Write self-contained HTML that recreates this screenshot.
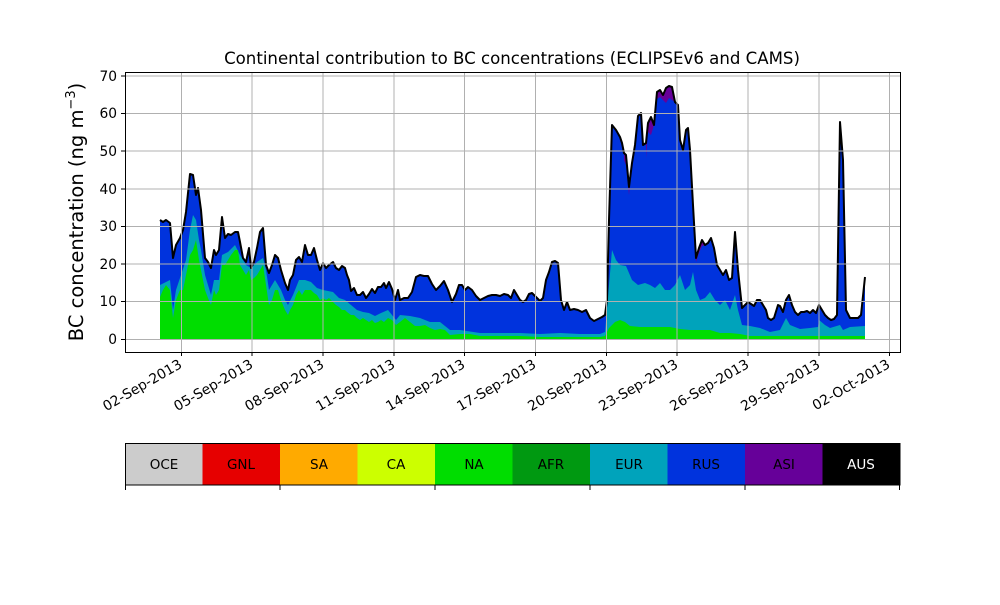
<!DOCTYPE html>
<html><head><meta charset="utf-8"><style>
body{margin:0;background:#fff}
svg text{font-family:"DejaVu Sans","Liberation Sans",sans-serif;fill:#000}
</style></head><body>
<svg width="1000" height="600" viewBox="0 0 1000 600" xmlns="http://www.w3.org/2000/svg">
<rect width="1000" height="600" fill="#fff"/>
<polygon fill="#0033dd" points="160,339 160,220 163,222 166,220 170,223 173,258 176,245 180,238 183,230 186,212 190,174 193,175 196,195 198,188 201,210 205,258 208,262 211,268 214,250 216,255 219,250 222,217 225,238 228,234 231,235 235,232 238,232 240,242 243,258 246,262 249,248 251,268 254,262 257,248 260,232 263,228 266,265 269,273 272,265 275,255 278,258 281,270 285,283 288,290 290,280 293,275 296,260 299,257 302,262 305,245 308,255 311,255 314,248 317,260 320,270 323,263 326,268 329,265 333,262 336,268 339,270 342,266 345,268 347,275 349,280 351,291 354,288 357,295 360,295 363,292 366,298 369,294 372,289 375,293 378,287 381,287 384,283 386,288 389,282 392,289 395,300 398,290 400,300 404,298 408,298 412,292 416,277 420,275 424,276 428,276 432,284 436,290 440,286 444,281 448,290 452,302 456,294 459,285 462,285 465,290 468,287 472,290 476,296 480,300 484,298 488,296 492,295 496,295 500,296 504,294 508,295 511,298 514,290 517,295 520,300 523,302 526,300 529,294 532,293 536,297 540,301 543,298 546,280 549,272 552,262 555,261 558,263 561,300 564,310 567,302 570,310 574,309 578,310 582,312 586,310 590,318 594,321 598,319 602,317 605,315 607,300 609,220 612,125 616,130 620,137 622,143 624,153 626,155 629,187 632,163 635,145 638,116 641,113 643,145 646,143 648,123 651,117 654,125 657,92 660,90 663,95 666,88 669,86 672,87 675,102 678,105 680,140 683,150 686,130 688,128 690,150 693,205 696,258 699,248 702,240 705,245 708,243 711,238 714,248 717,265 720,270 723,275 726,270 729,280 732,278 735,232 738,270 742,308 745,305 748,302 751,304 754,306 757,300 760,300 763,305 766,310 768,318 771,320 774,318 778,305 780,306 783,312 786,300 789,295 792,305 795,312 798,315 801,312 804,312 807,311 810,313 813,310 816,313 819,305 822,310 825,315 828,318 831,320 834,319 837,315 840,122 843,160 846,310 850,318 855,318 858,318 861,315 865,277 865,339"/>
<polygon fill="#660099" points="657,92 660,90 663,95 666,88 669,86 672,87 675,102 672,100 669,98 666,103 663,100 660,97 657,99"/>
<polygon fill="#660099" points="624,153 626,155 629,187 632,163 629,195 626,165 624,160"/>
<polygon fill="#660099" points="646,143 648,123 651,117 654,125 651,135 648,132 646,158"/>
<polygon fill="#660099" points="690,150 693,205 696,258 699,248 702,240 705,245 702,246 699,253 696,262 693,210"/>
<polygon fill="#00a3bb" points="160,339 160,285 170,280 173,310 176,290 180,278 186,260 190,230 193,215 196,220 199,240 201,250 205,275 208,285 211,295 214,280 219,280 222,255 228,252 235,245 240,255 243,260 246,265 251,268 257,262 263,258 266,270 269,290 275,280 281,290 285,300 288,305 293,295 299,280 305,280 311,282 317,288 323,290 333,292 339,298 345,300 351,305 357,310 363,312 369,313 375,316 381,313 388,310 392,315 396,320 400,315 410,316 420,318 430,322 440,322 450,330 460,330 480,333 500,333 520,333 540,334 560,333 580,334 600,334 605,332 609,285 612,250 616,260 620,265 626,266 632,280 638,285 645,283 650,285 655,288 660,283 665,290 670,290 675,285 680,275 685,290 690,285 693,272 696,290 700,300 705,298 710,292 715,300 720,305 725,300 730,310 735,295 738,310 742,325 750,326 760,328 770,332 780,330 786,318 790,325 800,329 810,328 818,327 819,320 825,325 830,328 840,325 843,330 850,327 865,326 865,339"/>
<polygon fill="#00dd00" points="160,339 160,297 163,290 166,285 170,290 173,318 176,300 180,290 183,290 186,275 190,255 193,250 196,240 199,260 201,270 205,290 208,298 211,305 214,290 216,295 219,290 222,265 225,265 228,260 231,255 235,250 238,250 240,265 243,270 246,275 249,270 251,280 254,278 257,275 260,270 263,265 266,285 269,305 272,300 275,290 278,290 281,300 285,310 288,315 290,310 293,305 296,295 299,290 302,295 305,290 308,290 311,290 314,293 317,295 320,300 323,298 326,300 329,298 333,302 336,305 339,307 342,310 345,310 347,312 351,315 354,315 357,318 360,320 363,318 366,320 369,322 372,320 375,323 378,322 381,320 384,322 388,318 392,320 396,325 400,322 405,318 410,322 415,326 420,326 425,325 430,328 435,330 440,329 445,330 450,335 460,334 470,334 480,336 490,336 500,336 520,336 540,337 560,337 580,337 600,337 605,336 609,328 615,322 620,320 625,322 630,326 640,327 650,327 660,327 670,327 680,329 690,330 700,330 710,330 720,333 730,333 740,334 750,336 760,336 790,336 865,336 865,339"/>
<polyline fill="none" stroke="#000" stroke-width="2" stroke-linejoin="round" points="160,220 163,222 166,220 170,223 173,258 176,245 180,238 183,230 186,212 190,174 193,175 196,195 198,188 201,210 205,258 208,262 211,268 214,250 216,255 219,250 222,217 225,238 228,234 231,235 235,232 238,232 240,242 243,258 246,262 249,248 251,268 254,262 257,248 260,232 263,228 266,265 269,273 272,265 275,255 278,258 281,270 285,283 288,290 290,280 293,275 296,260 299,257 302,262 305,245 308,255 311,255 314,248 317,260 320,270 323,263 326,268 329,265 333,262 336,268 339,270 342,266 345,268 347,275 349,280 351,291 354,288 357,295 360,295 363,292 366,298 369,294 372,289 375,293 378,287 381,287 384,283 386,288 389,282 392,289 395,300 398,290 400,300 404,298 408,298 412,292 416,277 420,275 424,276 428,276 432,284 436,290 440,286 444,281 448,290 452,302 456,294 459,285 462,285 465,290 468,287 472,290 476,296 480,300 484,298 488,296 492,295 496,295 500,296 504,294 508,295 511,298 514,290 517,295 520,300 523,302 526,300 529,294 532,293 536,297 540,301 543,298 546,280 549,272 552,262 555,261 558,263 561,300 564,310 567,302 570,310 574,309 578,310 582,312 586,310 590,318 594,321 598,319 602,317 605,315 607,300 609,220 612,125 616,130 620,137 622,143 624,153 626,155 629,187 632,163 635,145 638,116 641,113 643,145 646,143 648,123 651,117 654,125 657,92 660,90 663,95 666,88 669,86 672,87 675,102 678,105 680,140 683,150 686,130 688,128 690,150 693,205 696,258 699,248 702,240 705,245 708,243 711,238 714,248 717,265 720,270 723,275 726,270 729,280 732,278 735,232 738,270 742,308 745,305 748,302 751,304 754,306 757,300 760,300 763,305 766,310 768,318 771,320 774,318 778,305 780,306 783,312 786,300 789,295 792,305 795,312 798,315 801,312 804,312 807,311 810,313 813,310 816,313 819,305 822,310 825,315 828,318 831,320 834,319 837,315 840,122 843,160 846,310 850,318 855,318 858,318 861,315 865,277"/>
<g stroke="#b0b0b0" stroke-width="1">
<line x1="125" x2="900" y1="339.5" y2="339.5"/><line x1="125" x2="900" y1="301.5" y2="301.5"/><line x1="125" x2="900" y1="264" y2="264"/><line x1="125" x2="900" y1="226.5" y2="226.5"/><line x1="125" x2="900" y1="189" y2="189"/><line x1="125" x2="900" y1="151" y2="151"/><line x1="125" x2="900" y1="113.5" y2="113.5"/><line x1="125" x2="900" y1="76" y2="76"/>
<line x1="181.5" x2="181.5" y1="72" y2="352"/><line x1="252" x2="252" y1="72" y2="352"/><line x1="323" x2="323" y1="72" y2="352"/><line x1="394" x2="394" y1="72" y2="352"/><line x1="464.5" x2="464.5" y1="72" y2="352"/><line x1="535.5" x2="535.5" y1="72" y2="352"/><line x1="606.5" x2="606.5" y1="72" y2="352"/><line x1="677" x2="677" y1="72" y2="352"/><line x1="748" x2="748" y1="72" y2="352"/><line x1="819" x2="819" y1="72" y2="352"/><line x1="889.5" x2="889.5" y1="72" y2="352"/>
</g>
<rect x="125.5" y="72.5" width="775" height="280" fill="none" stroke="#000" stroke-width="1"/>
<g stroke="#000"><line x1="121" x2="125" y1="339.5" y2="339.5"/><line x1="121" x2="125" y1="301.5" y2="301.5"/><line x1="121" x2="125" y1="264" y2="264"/><line x1="121" x2="125" y1="226.5" y2="226.5"/><line x1="121" x2="125" y1="189" y2="189"/><line x1="121" x2="125" y1="151" y2="151"/><line x1="121" x2="125" y1="113.5" y2="113.5"/><line x1="121" x2="125" y1="76" y2="76"/>
<line x1="181.5" x2="181.5" y1="352" y2="356"/><line x1="252" x2="252" y1="352" y2="356"/><line x1="323" x2="323" y1="352" y2="356"/><line x1="394" x2="394" y1="352" y2="356"/><line x1="464.5" x2="464.5" y1="352" y2="356"/><line x1="535.5" x2="535.5" y1="352" y2="356"/><line x1="606.5" x2="606.5" y1="352" y2="356"/><line x1="677" x2="677" y1="352" y2="356"/><line x1="748" x2="748" y1="352" y2="356"/><line x1="819" x2="819" y1="352" y2="356"/><line x1="889.5" x2="889.5" y1="352" y2="356"/></g>
<g font-size="13.8" text-anchor="end">
<text x="117" y="344">0</text><text x="117" y="306">10</text><text x="117" y="269">20</text><text x="117" y="231">30</text><text x="117" y="194">40</text><text x="117" y="156">50</text><text x="117" y="118">60</text><text x="117" y="81">70</text>
</g>
<g font-size="13.8" text-anchor="end">
<text transform="translate(183,367) rotate(-30)">02-Sep-2013</text>
<text transform="translate(254,367) rotate(-30)">05-Sep-2013</text>
<text transform="translate(325,367) rotate(-30)">08-Sep-2013</text>
<text transform="translate(396,367) rotate(-30)">11-Sep-2013</text>
<text transform="translate(466,367) rotate(-30)">14-Sep-2013</text>
<text transform="translate(537,367) rotate(-30)">17-Sep-2013</text>
<text transform="translate(608,367) rotate(-30)">20-Sep-2013</text>
<text transform="translate(679,367) rotate(-30)">23-Sep-2013</text>
<text transform="translate(750,367) rotate(-30)">26-Sep-2013</text>
<text transform="translate(821,367) rotate(-30)">29-Sep-2013</text>
<text transform="translate(891,367) rotate(-30)">02-Oct-2013</text>
</g>
<text x="512" y="64" font-size="16.6" text-anchor="middle">Continental contribution to BC concentrations (ECLIPSEv6 and CAMS)</text>
<text transform="translate(83,212) rotate(-90)" font-size="19.5" text-anchor="middle">BC concentration (ng m<tspan font-size="13" dy="-8">−3</tspan><tspan dy="8">)</tspan></text>
<rect x="125" y="443" width="78" height="42" fill="#cccccc"/>
<rect x="202.5" y="443" width="78" height="42" fill="#e60000"/>
<rect x="280" y="443" width="78" height="42" fill="#ffaa00"/>
<rect x="357.5" y="443" width="78" height="42" fill="#ccff00"/>
<rect x="435" y="443" width="78" height="42" fill="#00dd00"/>
<rect x="512.5" y="443" width="78" height="42" fill="#009911"/>
<rect x="590" y="443" width="78" height="42" fill="#00a3bb"/>
<rect x="667.5" y="443" width="78" height="42" fill="#0033dd"/>
<rect x="745" y="443" width="78" height="42" fill="#660099"/>
<rect x="822.5" y="443" width="77.5" height="42" fill="#000"/>
<rect x="125.5" y="443.5" width="774.5" height="41.5" fill="none" stroke="#000"/>
<g stroke="#000"><line x1="125.5" x2="125.5" y1="485" y2="490"/><line x1="280" x2="280" y1="485" y2="490"/><line x1="435" x2="435" y1="485" y2="490"/><line x1="590" x2="590" y1="485" y2="490"/><line x1="745" x2="745" y1="485" y2="490"/><line x1="899.5" x2="899.5" y1="485" y2="490"/></g>
<g font-size="13.5" text-anchor="middle">
<text x="164" y="469">OCE</text><text x="241" y="469">GNL</text><text x="319" y="469">SA</text><text x="396" y="469">CA</text><text x="474" y="469">NA</text><text x="551" y="469">AFR</text><text x="629" y="469">EUR</text><text x="706" y="469">RUS</text><text x="784" y="469">ASI</text><text x="861" y="469" style="fill:#fff">AUS</text>
</g>
</svg>
</body></html>
